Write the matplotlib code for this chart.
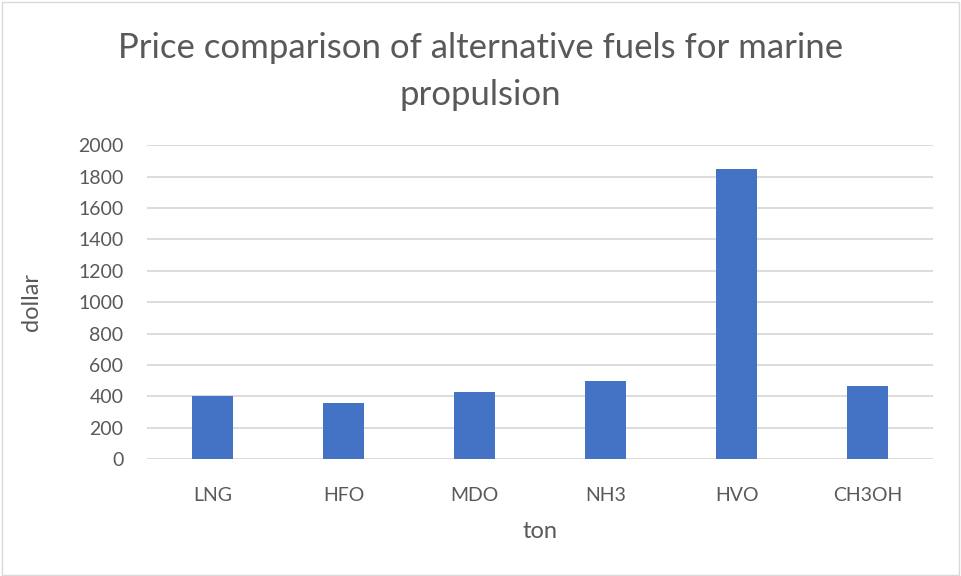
import matplotlib.pyplot as plt
from matplotlib.patches import Rectangle

# Fuel price per ton (USD)
fuels = ["LNG", "HFO", "MDO", "NH3", "HVO", "CH3OH"]
prices = [400, 360, 430, 500, 1850, 465]
y_ticks = [0, 200, 400, 600, 800, 1000, 1200, 1400, 1600, 1800, 2000]

bar_color = "#4472C4"
grid_color = "#D9D9D9"
text_color = "#595959"

plt.rcParams["font.family"] = ["Lato", "DejaVu Sans"]

fig = plt.figure(figsize=(9.61, 5.76), dpi=100)
ax = fig.add_axes([0.153, 0.203, 0.818, 0.545])

x = range(len(fuels))
ax.bar(x, prices, width=0.31, color=bar_color, zorder=3)

ax.set_ylim(0, 2000)
ax.set_xlim(-0.5, len(fuels) - 0.5)
ax.set_yticks(y_ticks)
ax.set_xticks(list(x))
ax.set_xticklabels(fuels)
ax.yaxis.grid(True, color=grid_color, linewidth=1.3, zorder=0)
ax.tick_params(axis="both", length=0, labelsize=14, colors=text_color)
ax.tick_params(axis="y", pad=17)
ax.tick_params(axis="x", pad=20)
for side in ["top", "right", "left", "bottom"]:
    ax.spines[side].set_visible(False)

ax.set_xlabel("ton", fontsize=17, color=text_color, labelpad=12)
ax.set_ylabel("dollar", fontsize=17, color=text_color)
ax.yaxis.set_label_coords(-0.134, 0.5)

fig.text(0.5, 0.876, "Price comparison of alternative fuels for marine\npropulsion",
         ha="center", va="center", fontsize=25, color=text_color, linespacing=1.6)

# light chart frame
fig.patches.append(Rectangle((0.002, 0.002), 0.996, 0.994, transform=fig.transFigure,
                             fill=False, edgecolor=grid_color, linewidth=1))

fig.savefig("out.png", dpi=100)
